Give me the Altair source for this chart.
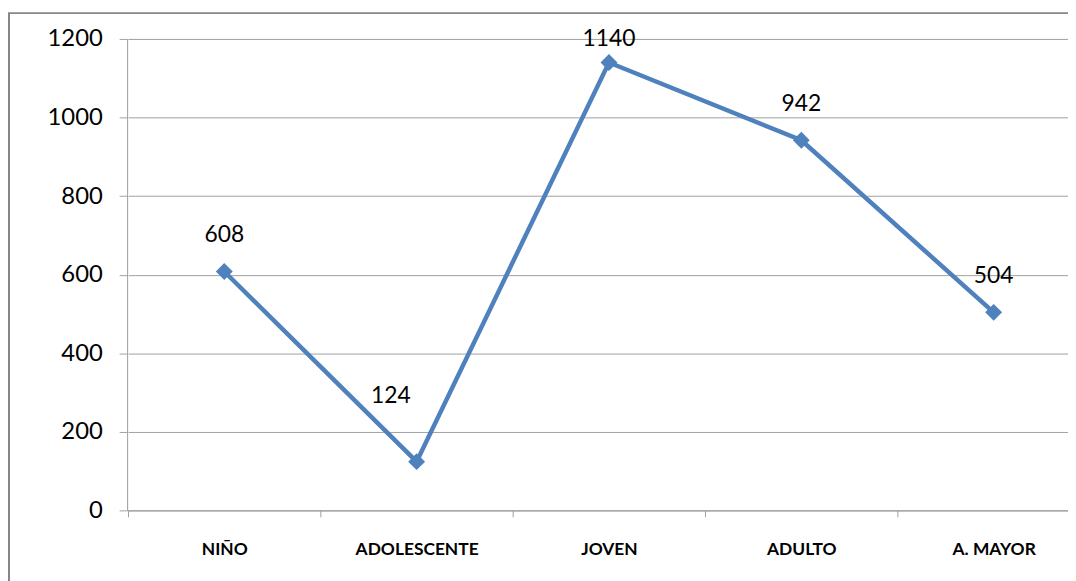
import altair as alt
import pandas as pd

categories = ["NIÑO", "ADOLESCENTE", "JOVEN", "ADULTO", "A. MAYOR"]
values = [608, 124, 1140, 942, 504]

df = pd.DataFrame({"cat": categories, "val": values})

BLUE = "#4F81BD"
GRID = "#A0A0A0"
FONT = "Lato"

STEP = 193.8
xenc = alt.X("cat:N", sort=categories,
             scale=alt.Scale(type="point", range=[1, 1 + 5 * STEP], padding=0.5),
             axis=alt.Axis(title=None, labelAngle=0, ticks=False,
                           labelFont=FONT, labelFontWeight="bold", labelFontSize=17.5,
                           labelColor="#000000", labelPadding=30,
                           domainColor=GRID, grid=False))
yenc = alt.Y("val:Q", scale=alt.Scale(domain=[0, 1200], nice=False),
             axis=alt.Axis(title=None, values=[0, 200, 400, 600, 800, 1000, 1200],
                           format="d",
                           labelFont=FONT, labelFontSize=24, labelColor="#000000",
                           labelPadding=17, tickSize=8, tickColor=GRID,
                           domainColor=GRID, gridColor=GRID, grid=True))

base = alt.Chart(df)

ticks = base.mark_rule(color=GRID, strokeWidth=1, xOffset=-96.5).encode(
    x=xenc, y=alt.value(475), y2=alt.value(482))

line = base.mark_line(color=BLUE, strokeWidth=4.5).encode(x=xenc, y=yenc)
pts = base.mark_point(shape="diamond", filled=True, size=290, color=BLUE, opacity=1).encode(x=xenc, y=yenc)

lab_common = dict(font=FONT, fontSize=23, color="#000000", baseline="middle", align="center")
labels = base.mark_text(dy=-37, **lab_common).encode(
    x=xenc, y=yenc, text="val:Q").transform_filter(
    (alt.datum.cat != "ADOLESCENTE") & (alt.datum.cat != "JOVEN"))
lab124 = base.mark_text(dy=-66, dx=-26, **lab_common).encode(
    x=xenc, y=yenc, text="val:Q").transform_filter(alt.datum.cat == "ADOLESCENTE")
lab1140 = base.mark_text(dy=-24, **lab_common).encode(
    x=xenc, y=yenc, text="val:Q").transform_filter(alt.datum.cat == "JOVEN")

frame = alt.Chart(alt.Data(values=[{}])).mark_rect(
    fill=None, stroke="#868686", strokeWidth=2, clip=False).encode(
    x=alt.value(-119), x2=alt.value(2000), y=alt.value(-26), y2=alt.value(2000))

chart = alt.layer(frame, ticks, line, pts, labels, lab124, lab1140).properties(
    width=948, height=475,
    padding={"left": 120, "top": 29, "right": 0, "bottom": 69},
    autosize=alt.AutoSizeParams(type="none"),
).configure_view(stroke=None).configure(background="white")

chart.save("out.html", embed_options={"renderer": "svg", "actions": False})
